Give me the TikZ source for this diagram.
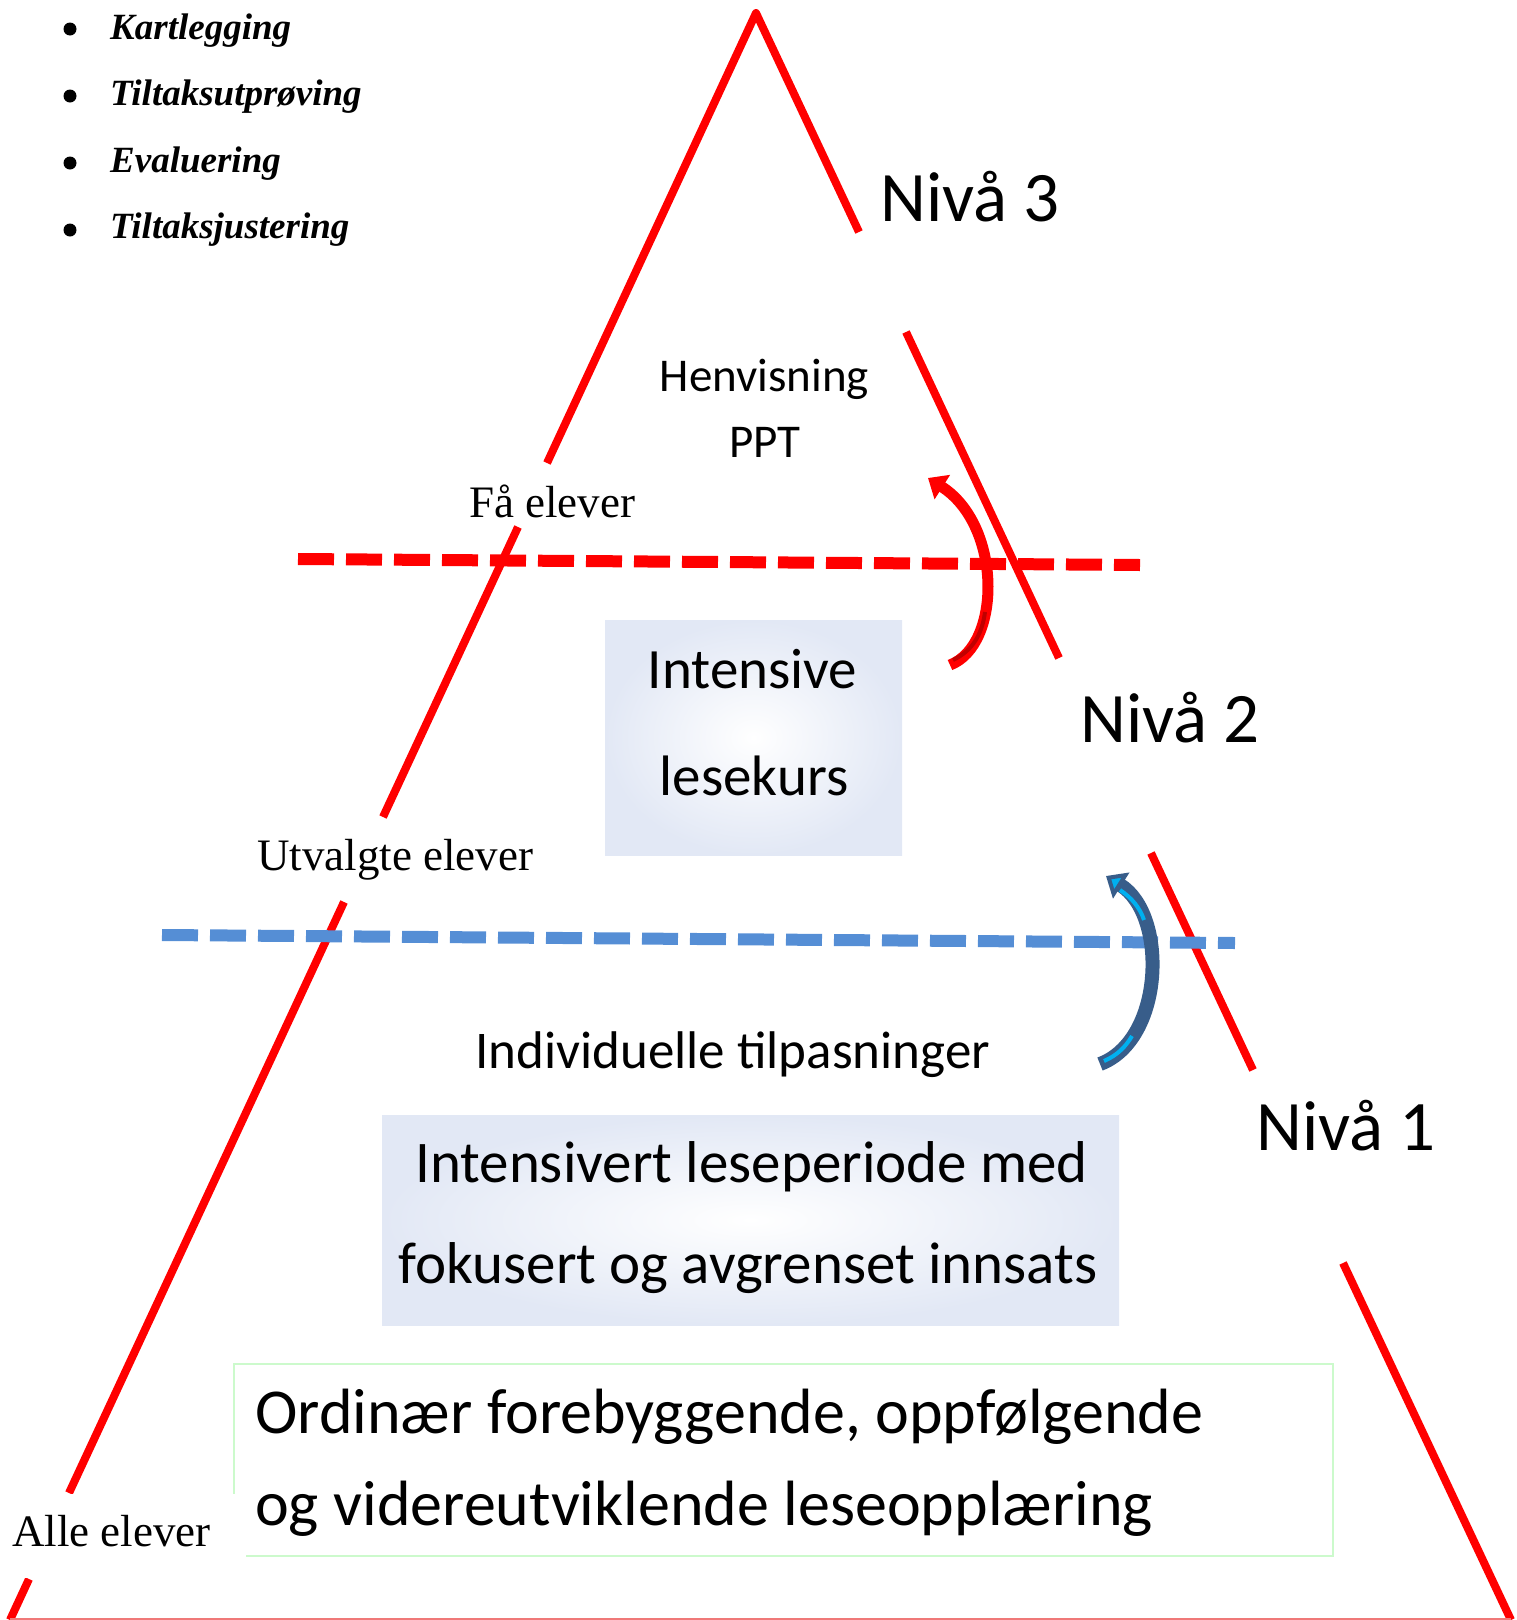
\documentclass[tikz,border=0pt]{standalone}
\usepackage{fontspec}
\setmainfont{Liberation Serif}
\newfontfamily\calfont{Carlito}
\usetikzlibrary{arrows.meta}
\definecolor{dashblue}{RGB}{85,142,213}
\definecolor{arrowblue}{RGB}{56,93,138}
\definecolor{arrowcyan}{RGB}{0,176,240}
\definecolor{boxedge}{RGB}{226,232,245}
\definecolor{boxgreen}{RGB}{204,250,204}
\definecolor{darkred}{RGB}{192,0,0}
\definecolor{bottomline}{RGB}{240,120,120}
\begin{document}
\begin{tikzpicture}[x=1pt,y=-1pt,
  pyr/.style={draw=red,line width=8pt,line join=round},
  reddash/.style={draw=red,line width=12pt,dash pattern=on 36pt off 12pt},
  bluedash/.style={draw=dashblue,line width=12pt,dash pattern=on 36pt off 12pt},
  lbl/.style={inner sep=0pt,anchor=base west},
  lblc/.style={inner sep=0pt,anchor=base},
  gradbox/.style={inner color=white,outer color=boxedge,inner sep=0pt,draw=none},
  bulletdot/.style={circle,fill=black,minimum size=13pt,inner sep=0pt},
  bitem/.style={lbl,font=\bfseries\itshape\fontsize{37}{44}\selectfont},
  niva/.style={lbl,font=\calfont\fontsize{71}{85}\selectfont},
  serifl/.style={lbl,font=\fontsize{45}{54}\selectfont},
]
\path[use as bounding box] (0,0) rectangle (1517,1620);

% pyramid sides
\coordinate (apex) at (756,13);
\draw[pyr] (547,463) -- (apex) -- (859,232);
\draw[pyr] (906,332) -- (1059,658);
\draw[pyr] (1151,853) -- (1253,1070);
\draw[pyr] (1343,1263) -- (1511,1620);
\draw[pyr] (518,527) -- (383,817);
\draw[pyr] (344,902) -- (69,1493);
\draw[pyr] (29,1579) -- (10,1620);
\draw[bottomline,line width=2pt] (10,1619) -- (1511,1619);

% dashed level lines
\draw[reddash] (298,559) -- (1140,565);
\draw[bluedash] (162,935) -- (1235,943);

% red curved arrow
\coordinate (ra1) at (950,665);
\coordinate (ra2) at (928,478);
\draw[red,line width=11pt,-{Triangle[length=17pt,width=28pt]}]
  (ra1) .. controls (1002,645) and (1002,525) .. (ra2);
\draw[darkred,line width=4pt] (953,660) .. controls (972,651) and (982,635) .. (985,612);

% blue curved arrow
\coordinate (ba1) at (1100,1064);
\coordinate (ba2) at (1106,876);
\draw[arrowblue,line width=14pt,-{Triangle[length=18pt,width=30pt,fill=arrowcyan,line width=4pt]}]
  (ba1) .. controls (1164,1040) and (1168,915) .. (ba2);
\draw[arrowcyan,line width=4pt] (1104,1061) .. controls (1118,1055) and (1126,1046) .. (1132,1036);
\draw[arrowcyan,line width=4pt] (1120,890) .. controls (1132,898) and (1140,908) .. (1144,920);

% boxes
\node[gradbox,minimum width=297pt,minimum height=235pt] (box2) at (753.5,737.5) {};
\node[gradbox,minimum width=737pt,minimum height=210pt] (box1) at (750.5,1220) {};
\node[draw=boxgreen,line width=2pt,fill=white,minimum width=1099pt,minimum height=192pt,inner sep=0pt] (box0) at (783.5,1460) {};

% bullet list
\node[bulletdot] (d1) at (70,29) {};
\node[bulletdot] (d2) at (70,96) {};
\node[bulletdot] (d3) at (70,163) {};
\node[bulletdot] (d4) at (70,230) {};
\node[bitem] (t1) at (110,39) {Kartlegging};
\node[bitem] (t2) at (110,105) {Tiltaksutprøving};
\node[bitem] (t3) at (110,172) {Evaluering};
\node[bitem] (t4) at (110,238) {Tiltaksjustering};

% level labels
\node[niva] (n3) at (880,221) {Nivå 3};
\node[niva] (n2) at (1080,742) {Nivå 2};
\node[niva] (n1) at (1256,1150) {Nivå 1};

% side labels
\node[serifl] (fa) at (469,517) {Få elever};
\node[serifl] (ut) at (257,870) {Utvalgte elever};
\fill[white] (0,1494) rectangle (246,1578);
\node[serifl] (alle) at (12,1546) {Alle elever};

% inner texts
\node[lblc,font=\calfont\fontsize{47}{56}\selectfont] (h1) at (764.5,391) {Henvisning};
\node[lblc,font=\calfont\fontsize{47}{56}\selectfont] (h2) at (765,457) {PPT};
\node[lblc,font=\calfont\fontsize{57}{68}\selectfont] (i1) at (752.5,688) {Intensive};
\node[lblc,font=\calfont\fontsize{57}{68}\selectfont] (i2) at (754,795) {lesekurs};
\node[lbl,font=\calfont\fontsize{53}{63}\selectfont] (ind) at (475,1068) {Individuelle tilpasninger};
\node[lblc,font=\calfont\fontsize{59}{70}\selectfont] (p1) at (751.5,1182) {Intensivert leseperiode med};
\node[lblc,font=\calfont\fontsize{59}{70}\selectfont] (p2) at (748,1283) {fokusert og avgrenset innsats};
\node[lbl,font=\calfont\fontsize{64}{76}\selectfont] (o1) at (255,1433) {Ordinær forebyggende, oppfølgende};
\node[lbl,font=\calfont\fontsize{64}{76}\selectfont] (o2) at (255,1525) {og videreutviklende leseopplæring};
\end{tikzpicture}
\end{document}
